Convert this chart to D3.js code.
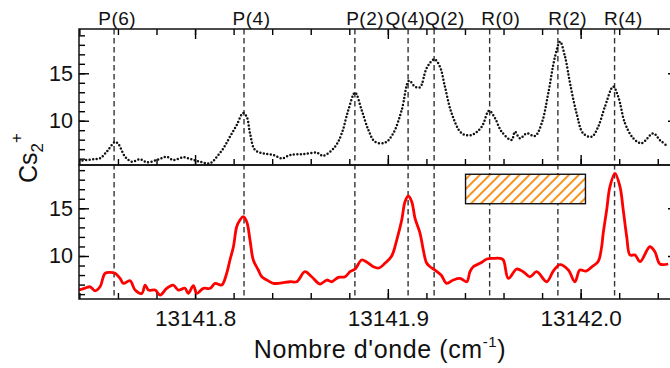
<!DOCTYPE html>
<html>
<head>
<meta charset="utf-8">
<script src="https://cdn.jsdelivr.net/npm/d3@7"></script>
<style>
  body { margin: 0; background: #fff; }
  svg { display: block; font-family: "Liberation Sans", Arial, sans-serif; }
</style>
</head>
<body>
<svg id="chart" width="670" height="368"></svg>
<script>
// ---------- DATA ----------
const transitions = ["P(6)", "P(4)", "P(2)", "Q(4)", "Q(2)", "R(0)", "R(2)", "R(4)"];
const transitionWave = [13141.7580, 13141.8254, 13141.8829, 13141.9105, 13141.9240, 13141.9528, 13141.9882, 13142.0176];
const labelWave = [13141.7596, 13141.8293, 13141.8882, 13141.9091, 13141.9296, 13141.9586, 13141.9933, 13142.0222];

const topWave = [13141.7399, 13141.7473, 13141.7507, 13141.7542, 13141.7585, 13141.7602, 13141.7637, 13141.7672, 13141.7715, 13141.7750,
  13141.7801, 13141.7853, 13141.7887, 13141.7939, 13141.7983, 13141.8026, 13141.8078, 13141.8113, 13141.8147, 13141.8181,
  13141.8216, 13141.8249, 13141.8268, 13141.8285, 13141.8311, 13141.8354, 13141.8406, 13141.8450, 13141.8493, 13141.8562,
  13141.8631, 13141.8665, 13141.8726, 13141.8761, 13141.8795, 13141.8830, 13141.8864, 13141.8899, 13141.8933, 13141.8985,
  13141.9028, 13141.9072, 13141.9110, 13141.9141, 13141.9167, 13141.9201, 13141.9241, 13141.9270, 13141.9296, 13141.9331,
  13141.9383, 13141.9435, 13141.9487, 13141.9525, 13141.9556, 13141.9590, 13141.9642, 13141.9659, 13141.9685, 13141.9720,
  13141.9763, 13141.9798, 13141.9832, 13141.9867, 13141.9893, 13141.9919, 13141.9945, 13141.9979, 13142.0013, 13142.0057,
  13142.0091, 13142.0126, 13142.0169, 13142.0195, 13142.0230, 13142.0273, 13142.0316, 13142.0376, 13142.0411, 13142.0454];
const topSignal = [5.78, 5.93, 6.03, 6.73, 7.75, 7.54, 6.20, 5.68, 5.93, 5.61,
  5.85, 6.20, 5.85, 6.14, 5.93, 5.68, 5.51, 6.20, 7.09, 8.31,
  9.55, 10.81, 10.42, 8.67, 6.91, 6.56, 6.38, 6.03, 6.38, 6.49,
  6.62, 6.31, 7.26, 8.67, 11.13, 12.95, 11.13, 9.02, 7.78, 7.68,
  8.67, 11.13, 14.22, 13.59, 13.52, 15.53, 16.48, 15.70, 13.59, 10.78,
  8.67, 8.49, 9.37, 11.05, 10.25, 8.84, 7.96, 8.84, 8.14, 8.67,
  8.39, 9.73, 12.89, 16.75, 18.33, 16.75, 13.95, 10.78, 8.67, 8.31,
  9.37, 11.48, 13.59, 12.53, 9.73, 8.14, 7.62, 8.67, 7.96, 7.26];

const bottomWave = [13141.7399, 13141.7430, 13141.7456, 13141.7481, 13141.7507, 13141.7533, 13141.7559, 13141.7585, 13141.7611, 13141.7628,
  13141.7663, 13141.7689, 13141.7724, 13141.7741, 13141.7758, 13141.7793, 13141.7819, 13141.7853, 13141.7887, 13141.7913,
  13141.7948, 13141.7965, 13141.7991, 13141.8009, 13141.8043, 13141.8078, 13141.8104, 13141.8138, 13141.8164, 13141.8181,
  13141.8199, 13141.8216, 13141.8233, 13141.8250, 13141.8268, 13141.8285, 13141.8302, 13141.8328, 13141.8346, 13141.8372,
  13141.8406, 13141.8441, 13141.8493, 13141.8527, 13141.8570, 13141.8605, 13141.8648, 13141.8683, 13141.8709, 13141.8743,
  13141.8778, 13141.8804, 13141.8830, 13141.8864, 13141.8890, 13141.8925, 13141.8954, 13141.8985, 13141.9020, 13141.9046,
  13141.9072, 13141.9089, 13141.9106, 13141.9124, 13141.9141, 13141.9167, 13141.9184, 13141.9201, 13141.9219, 13141.9244,
  13141.9276, 13141.9305, 13141.9339, 13141.9374, 13141.9409, 13141.9426, 13141.9443, 13141.9478, 13141.9514, 13141.9547,
  13141.9582, 13141.9599, 13141.9625, 13141.9668, 13141.9702, 13141.9737, 13141.9772, 13141.9824, 13141.9858, 13141.9893,
  13141.9936, 13141.9970, 13141.9996, 13142.0028, 13142.0057, 13142.0091, 13142.0109, 13142.0117, 13142.0135, 13142.0152,
  13142.0178, 13142.0204, 13142.0221, 13142.0239, 13142.0256, 13142.0282, 13142.0308, 13142.0359, 13142.0385, 13142.0411,
  13142.0454];
const bottomSignal = [6.43, 6.64, 6.77, 6.35, 6.77, 8.18, 8.28, 8.18, 7.65, 7.13,
  7.40, 6.43, 6.08, 6.95, 6.43, 6.43, 5.90, 6.61, 6.95, 6.43,
  6.61, 6.08, 6.88, 6.08, 6.61, 6.61, 7.13, 6.95, 8.18, 9.58,
  10.97, 13.07, 13.77, 14.12, 13.59, 11.67, 9.58, 8.53, 7.82, 7.48,
  7.13, 7.16, 7.30, 7.30, 8.35, 7.82, 7.06, 7.48, 7.30, 7.76,
  7.82, 8.35, 8.63, 9.58, 9.37, 8.87, 8.74, 9.23, 10.00, 11.67,
  13.77, 15.69, 16.29, 15.69, 13.95, 12.38, 10.62, 9.26, 8.87, 8.53,
  8.00, 7.13, 7.48, 7.65, 7.30, 8.35, 8.87, 9.23, 9.68, 9.75,
  9.75, 9.58, 7.65, 8.63, 8.35, 7.82, 8.35, 7.30, 8.42, 9.10,
  8.53, 7.30, 8.53, 8.42, 8.84, 9.42, 10.97, 12.38, 14.82, 17.27,
  18.67, 17.27, 14.82, 12.02, 10.10, 10.10, 9.40, 10.97, 10.45, 9.16,
  9.16];

const xMajorTicks = [13141.8, 13141.9, 13142.0];
const yMajorTicks = [10, 15];
const hatchWave = [13141.9403, 13142.0025];
const hatchSignal = [15.48, 18.57];

// ---------- LAYOUT ----------
const L = 79, R = 678, T = 29, M = 165, B = 299;
const svg = d3.select("#chart");

const x = d3.scaleLinear().domain([13141.7398, 13142.0505]).range([L, R]);
const yTop = d3.scaleLinear().domain([5.33, 19.67]).range([M, T]);
const yBot = d3.scaleLinear().domain([5.49, 19.54]).range([B, M]);

const xMinorTicks = d3.range(0, 16).map(i => +(13141.74 + i * 0.02).toFixed(2));
const yMinorTicks = d3.range(6, 20);

const defs = svg.append("defs");
defs.append("clipPath").attr("id", "clipTop").append("rect")
  .attr("x", L).attr("y", T).attr("width", R - L).attr("height", M - T);
defs.append("clipPath").attr("id", "clipBot").append("rect")
  .attr("x", L).attr("y", M).attr("width", R - L).attr("height", B - M);
const pat = defs.append("pattern").attr("id", "hatch")
  .attr("patternUnits", "userSpaceOnUse").attr("width", 7).attr("height", 7)
  .attr("patternTransform", "rotate(45)");
pat.append("rect").attr("width", 7).attr("height", 7).attr("fill", "#fff");
pat.append("line").attr("x1", 1).attr("y1", 0).attr("x2", 1).attr("y2", 7)
  .attr("stroke", "#f7931e").attr("stroke-width", 2);

// ---------- AXES ----------
function styleAxis(g) {
  g.select(".domain").remove();
  g.attr("color", "#000");
  g.selectAll(".tick line").attr("stroke-width", 1.4);
}
function axis(gen, translate, values, size, fmt, pad, fontSize) {
  const g = svg.append("g").attr("transform", translate)
    .call(gen.tickValues(values).tickSize(size).tickSizeOuter(0)
      .tickFormat(fmt || (() => "")).tickPadding(pad || 3));
  styleAxis(g);
  g.attr("font-family", null).attr("font-size", fontSize || 10);
  g.selectAll("text").attr("fill", "#111");
  return g;
}
// x axes
axis(d3.axisTop(x), `translate(0,${T})`, xMinorTicks, -6);
axis(d3.axisTop(x), `translate(0,${T})`, xMajorTicks, -10);
axis(d3.axisBottom(x), `translate(0,${M})`, xMinorTicks, -6);
axis(d3.axisBottom(x), `translate(0,${M})`, xMajorTicks, -10);
axis(d3.axisBottom(x), `translate(0,${B})`, xMinorTicks, -6);
axis(d3.axisBottom(x), `translate(0,${B})`, xMajorTicks, -10, d3.format(".1f"), 11, 22.5);
// y axes
[yTop, yBot].forEach(y => {
  axis(d3.axisLeft(y), `translate(${L},0)`, yMinorTicks.filter(v => y(v) >= T && y(v) <= B), -6);
  axis(d3.axisLeft(y), `translate(${L},0)`, yMajorTicks, -10, d3.format("d"), 6, 21.5);
  axis(d3.axisRight(y), `translate(${R},0)`, yMajorTicks, -10);
});

// ---------- MARKS ----------
// vertical dashed transition lines
svg.append("g").selectAll("line").data(transitionWave).join("line")
  .attr("x1", d => x(d)).attr("x2", d => x(d))
  .attr("y1", T).attr("y2", B)
  .attr("stroke", "#333").attr("stroke-width", 1.4)
  .attr("stroke-dasharray", "5.5,3.5");

// labels
svg.append("g").selectAll("text").data(transitions).join("text")
  .attr("x", (d, i) => x(labelWave[i]))
  .attr("y", 25)
  .attr("text-anchor", "middle")
  .attr("font-size", 19)
  .attr("letter-spacing", 0.5)
  .attr("fill", "#111")
  .text(d => d);

// top dotted curve
const topData = topWave.map((w, i) => [w, topSignal[i]]);
svg.append("path").datum(topData)
  .attr("clip-path", "url(#clipTop)")
  .attr("fill", "none").attr("stroke", "#111")
  .attr("stroke-width", 2.5).attr("stroke-linecap", "round")
  .attr("stroke-dasharray", "0,3.5")
  .attr("d", d3.line().x(d => x(d[0])).y(d => yTop(d[1])).curve(d3.curveCatmullRom.alpha(0.5)));

// bottom red curve
const botData = bottomWave.map((w, i) => [w, bottomSignal[i]]);
svg.append("path").datum(botData)
  .attr("clip-path", "url(#clipBot)")
  .attr("fill", "none").attr("stroke", "#ff0000")
  .attr("stroke-width", 2.8).attr("stroke-linejoin", "round")
  .attr("d", d3.line().x(d => x(d[0])).y(d => yBot(d[1])).curve(d3.curveCatmullRom.alpha(0.5)));

// hatched box
svg.append("rect")
  .attr("x", x(hatchWave[0])).attr("y", yBot(hatchSignal[1]))
  .attr("width", x(hatchWave[1]) - x(hatchWave[0]))
  .attr("height", yBot(hatchSignal[0]) - yBot(hatchSignal[1]))
  .attr("fill", "url(#hatch)").attr("stroke", "#111").attr("stroke-width", 1.4);

// frames
svg.append("rect").attr("x", L).attr("y", T).attr("width", R - L).attr("height", M - T)
  .attr("fill", "none").attr("stroke", "#111").attr("stroke-width", 1.5);
svg.append("rect").attr("x", L).attr("y", M).attr("width", R - L).attr("height", B - M)
  .attr("fill", "none").attr("stroke", "#111").attr("stroke-width", 1.5);

// axis titles
const xt = svg.append("text").attr("x", 380).attr("y", 358)
  .attr("text-anchor", "middle").attr("font-size", 25).attr("letter-spacing", 0.6).attr("fill", "#111");
xt.append("tspan").text("Nombre d'onde (cm");
xt.append("tspan").attr("font-size", 15).attr("dy", -11).text("-1");
xt.append("tspan").attr("dy", 11).text(")");

const yt = svg.append("text").attr("transform", "translate(37,183) rotate(-90)")
  .attr("font-size", 25).attr("fill", "#111");
yt.append("tspan").text("Cs");
yt.append("tspan").attr("font-size", 17).attr("dy", 6).text("2");
yt.append("tspan").attr("font-size", 17).attr("dy", -21).text("+");
</script>
</body>
</html>
